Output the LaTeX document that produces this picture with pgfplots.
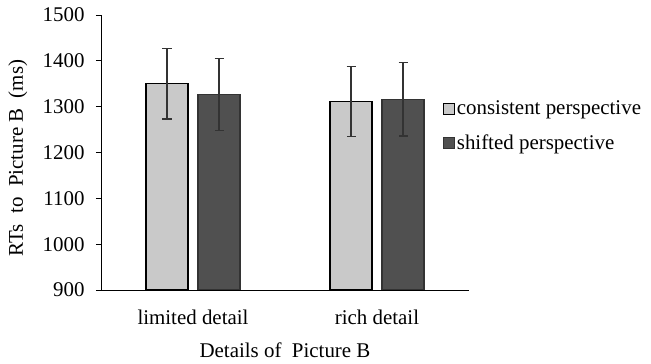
\documentclass[border=0pt]{standalone}
\usepackage{fontspec}
\setmainfont{Liberation Serif}
\usepackage{pgfplots}
\pgfplotsset{compat=1.18}
\definecolor{lightbar}{HTML}{C9C9C9}
\definecolor{darkbar}{HTML}{505050}
\definecolor{errc}{HTML}{333333}
\begin{document}
\begin{tikzpicture}
\path[use as bounding box] (0bp,0bp) rectangle (651bp,364bp);
\begin{axis}[
  at={(101bp,74bp)}, anchor=south west,
  scale only axis, width=368bp, height=275bp,
  font=\fontsize{21}{25}\selectfont,
  /pgf/number format/assume math mode=true,
  xmin=-0.5, xmax=1.5, ymin=900, ymax=1500,
  ytick={900,1000,...,1500},
  yticklabel style={/pgf/number format/1000 sep={}, xshift=-8bp},
  xtick={0,1}, xticklabels={limited detail, rich detail},
  major x tick style={draw=none},
  axis lines*=left,
  axis line style={line width=1pt, black},
  tick align=outside, major tick length=5bp,
  major y tick style={line width=1pt, black},
  xticklabel style={anchor=center, yshift=-22bp},
  ylabel={RTs\ \ to\ \ Picture B\ \ (ms)},
  ylabel style={at={(axis description cs:-0.226,0.48)}, anchor=center},
  xlabel={Details of\ \ Picture B},
  xlabel style={at={(axis description cs:0.5,-0.218)}, anchor=center},
  ybar=10bp, bar width=42bp,
  legend style={at={(axis description cs:0.929,0.596)}, anchor=west, draw=none, fill=none,
    inner sep=0pt, row sep=15bp, font=\fontsize{21}{25}\selectfont,
    legend cell align=left},
  legend image code/.code={\draw[#1, line width=0.8pt] (0bp,-5.5bp) rectangle (11bp,5.5bp);},
]
\addplot[fill=lightbar, draw=black, line width=1.2pt,
  error bars/.cd, y dir=both, y explicit,
  error bar style={line width=1.1pt, errc},
  error mark options={rotate=90, mark size=4.5bp, line width=1.1pt, errc}]
  coordinates {(0,1350) +- (0,77) (1,1311) +- (0,76)};
\addplot[fill=darkbar, draw=errc, line width=1.2pt,
  error bars/.cd, y dir=both, y explicit,
  error bar style={line width=1.1pt, errc},
  error mark options={rotate=90, mark size=4.5bp, line width=1.1pt, errc}]
  coordinates {(0,1327) +- (0,79) (1,1316) +- (0,80)};
\legend{consistent perspective, shifted perspective}
\end{axis}
\end{tikzpicture}
\end{document}
